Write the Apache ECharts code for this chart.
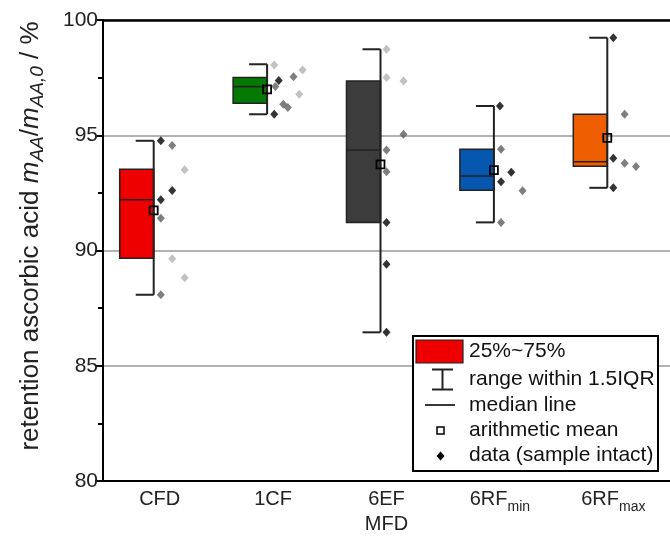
<!DOCTYPE html>
<html>
<head>
<meta charset="utf-8">
<script src="https://cdn.jsdelivr.net/npm/echarts@6/dist/echarts.min.js"></script>
<style>
html,body{margin:0;padding:0;background:#fff;}
#chart{width:670px;height:543px;}
</style>
</head>
<body>
<div id="chart"></div>
<script>
// ---- data ----
const categories = ['CFD', '1CF', '6EF', '6RFmin', '6RFmax'];
const yTicks = [80, 85, 90, 95, 100];

const whiskerLow  = [88.08, 95.91, 86.45, 91.22, 92.72];
const q1          = [89.66, 96.39, 91.22, 92.61, 93.65];
const median      = [92.20, 97.11, 94.36, 93.23, 93.85];
const q3          = [93.52, 97.51, 97.35, 94.39, 95.91];
const whiskerHigh = [94.76, 98.08, 98.73, 96.27, 99.23];
const mean        = [91.74, 96.99, 93.74, 93.49, 94.89];

// individual samples: [position on category scale, value]
const dataBlack = [[0.01, 94.76], [0.11, 92.60], [0.01, 92.20],
  [1.05, 97.37], [1.01, 95.91],
  [2.00, 91.22], [2.00, 89.40], [2.00, 86.45],
  [3.00, 96.27], [3.10, 93.39], [3.01, 92.98],
  [4.00, 99.23], [4.00, 94.00], [4.00, 92.72]];
const dataDark = [[0.11, 94.55], [0.01, 91.40], [0.01, 88.08],
  [1.02, 97.11], [1.18, 97.54], [1.09, 96.34], [1.13, 96.20],
  [2.15, 95.04], [2.00, 94.36], [2.00, 93.42],
  [3.01, 94.39], [3.20, 92.59], [3.01, 91.22],
  [4.10, 95.91], [4.10, 93.78], [4.20, 93.64]];
const dataLight = [[0.22, 93.50], [0.11, 89.64], [0.22, 88.82],
  [1.01, 98.05], [1.26, 97.83], [1.23, 96.78],
  [2.00, 98.73], [2.00, 97.51], [2.15, 97.35]];

// ---- styles ----
const boxColors = ['#ee0000', '#047a04', '#3c3c3c', '#0657b0', '#ef5e00'];
const FONT = 'Liberation Sans, Arial, sans-serif';

const boxData = categories.map((c, i) => [i, whiskerLow[i], q1[i], median[i], q3[i], whiskerHigh[i], mean[i]]);

function renderBox(params, api) {
  const i = api.value(0);
  const cx = api.coord([i, 90])[0];
  const right = cx - 6;
  const left = right - 34;
  const yLow = api.coord([i, api.value(1)])[1];
  const yQ1 = api.coord([i, api.value(2)])[1];
  const yMed = api.coord([i, api.value(3)])[1];
  const yQ3 = api.coord([i, api.value(4)])[1];
  const yHigh = api.coord([i, api.value(5)])[1];
  const yMean = api.coord([i, api.value(6)])[1];
  const stroke = '#222';
  return {
    type: 'group',
    children: [
      { type: 'rect', shape: { x: left, y: yQ3, width: right - left, height: yQ1 - yQ3 },
        style: { fill: boxColors[i], stroke: stroke, lineWidth: 1.5 } },
      { type: 'line', shape: { x1: left, y1: yMed, x2: right, y2: yMed },
        style: { stroke: stroke, lineWidth: 1.6 } },
      { type: 'line', shape: { x1: right, y1: yHigh, x2: right, y2: yLow },
        style: { stroke: stroke, lineWidth: 2 } },
      { type: 'line', shape: { x1: right - 18, y1: yHigh, x2: right, y2: yHigh },
        style: { stroke: stroke, lineWidth: 2 } },
      { type: 'line', shape: { x1: right - 18, y1: yLow, x2: right, y2: yLow },
        style: { stroke: stroke, lineWidth: 2 } },
      { type: 'rect', shape: { x: right - 4, y: yMean - 4, width: 8, height: 8 },
        style: { fill: 'none', stroke: '#000', lineWidth: 1.8 } }
    ]
  };
}

const chart = echarts.init(document.getElementById('chart'), null, { renderer: 'canvas' });

const legendX = 413, legendY = 336;
const legendItems = ['25%~75%', 'range within 1.5IQR', 'median line', 'arithmetic mean', 'data (sample intact)'];
const legendRows = [351.5, 379, 405, 430, 455];

const graphics = [
  { type: 'rect', z: 100, shape: { x: legendX, y: legendY, width: 245, height: 135 },
    style: { fill: '#fff', stroke: '#000', lineWidth: 2 } },
  { type: 'rect', z: 101, shape: { x: 416, y: 340, width: 47, height: 23 },
    style: { fill: '#ee0000', stroke: '#222', lineWidth: 1.2 } },
  { type: 'line', z: 101, shape: { x1: 442.5, y1: 369.5, x2: 442.5, y2: 389.5 }, style: { stroke: '#222', lineWidth: 2 } },
  { type: 'line', z: 101, shape: { x1: 432, y1: 369.5, x2: 453, y2: 369.5 }, style: { stroke: '#222', lineWidth: 2 } },
  { type: 'line', z: 101, shape: { x1: 432, y1: 389.5, x2: 453, y2: 389.5 }, style: { stroke: '#222', lineWidth: 2 } },
  { type: 'line', z: 101, shape: { x1: 425, y1: 405, x2: 455, y2: 405 }, style: { stroke: '#222', lineWidth: 1.8 } },
  { type: 'rect', z: 101, shape: { x: 437, y: 427, width: 7, height: 7 }, style: { fill: 'none', stroke: '#000', lineWidth: 1.5 } },
  { type: 'polygon', z: 101, shape: { points: [[440.5, 451.5], [444.5, 456], [440.5, 460.5], [436.5, 456]] }, style: { fill: '#000' } },
  { type: 'text', z: 102, x: 31, y: 236, rotation: Math.PI / 2,
    style: {
      text: '{n|retention ascorbic acid }{i|m}{s|AA}{n|/}{i|m}{s|AA,0}{n| / %}',
      align: 'center', verticalAlign: 'middle',
      rich: {
        n: { fontSize: 26, fontFamily: FONT, fill: '#222', lineHeight: 32 },
        i: { fontSize: 26, fontFamily: FONT, fontStyle: 'italic', fill: '#222', lineHeight: 32 },
        s: { fontSize: 19, fontFamily: FONT, fontStyle: 'italic', fill: '#222', verticalAlign: 'bottom', lineHeight: 14 }
      }
    } }
];
legendItems.forEach((t, k) => {
  graphics.push({ type: 'text', z: 102, x: 469, y: legendRows[k],
    style: { text: t, fontSize: 21, fontFamily: FONT, fill: '#111', verticalAlign: 'middle', align: 'left' } });
});

chart.setOption({
  animation: false,
  backgroundColor: '#fff',
  grid: { left: 103, top: 20, width: 571, height: 461, containLabel: false },
  xAxis: [
    {
      type: 'category', data: categories, position: 'bottom', boundaryGap: true,
      axisLine: { onZero: false, lineStyle: { color: '#000', width: 2 } },
      axisTick: { alignWithLabel: true, length: 8, lineStyle: { color: '#000', width: 2 } },
      axisLabel: {
        interval: 0, margin: 8, fontSize: 20, fontFamily: FONT, color: '#222',
        formatter: v => v.startsWith('6RF') ? '{m|6RF}{sub|' + v.slice(3) + '}' : v,
        rich: {
          m: { fontSize: 20, fontFamily: FONT, color: '#222', lineHeight: 22, verticalAlign: 'top' },
          sub: { fontSize: 14, fontFamily: FONT, color: '#222', verticalAlign: 'top', lineHeight: 14, padding: [11, 0, 0, 0] }
        }
      },
      name: 'MFD', nameLocation: 'middle', nameGap: 33, nameMoveOverlap: false,
      nameTextStyle: { fontSize: 20, fontFamily: FONT, color: '#222' },
      splitLine: { show: false }
    },
    {
      type: 'value', min: -0.5, max: 4.5, position: 'top',
      axisLine: { show: true, onZero: false, lineStyle: { color: '#000', width: 2.5 } },
      axisTick: { show: false }, axisLabel: { show: false }, splitLine: { show: false }
    }
  ],
  yAxis: {
    type: 'value', min: yTicks[0], max: yTicks[yTicks.length - 1], interval: 5, position: 'left',
    axisLine: { show: true, onZero: false, lineStyle: { color: '#000', width: 2 } },
    axisTick: { show: true, length: 8, lineStyle: { color: '#000', width: 2 } },
    minorTick: { show: true, splitNumber: 2, length: 5, lineStyle: { color: '#000', width: 2 } },
    axisLabel: { fontSize: 21, fontFamily: FONT, color: '#222', margin: 5 },
    splitLine: { show: true, lineStyle: { color: '#999', width: 1.5 } }
  },
  series: [
    { type: 'custom', xAxisIndex: 1, renderItem: renderBox, data: boxData, z: 3,
      encode: { x: 0, y: [1, 5] } },
    { type: 'scatter', xAxisIndex: 1, data: dataLight, symbol: 'diamond', symbolSize: [8, 9],
      itemStyle: { color: '#b2b2b2' }, z: 4 },
    { type: 'scatter', xAxisIndex: 1, data: dataDark, symbol: 'diamond', symbolSize: [8, 9],
      itemStyle: { color: '#5e5e5e' }, z: 5 },
    { type: 'scatter', xAxisIndex: 1, data: dataBlack, symbol: 'diamond', symbolSize: [8, 9],
      itemStyle: { color: '#000' }, z: 6 }
  ],
  graphic: graphics
});
</script>
</body>
</html>
